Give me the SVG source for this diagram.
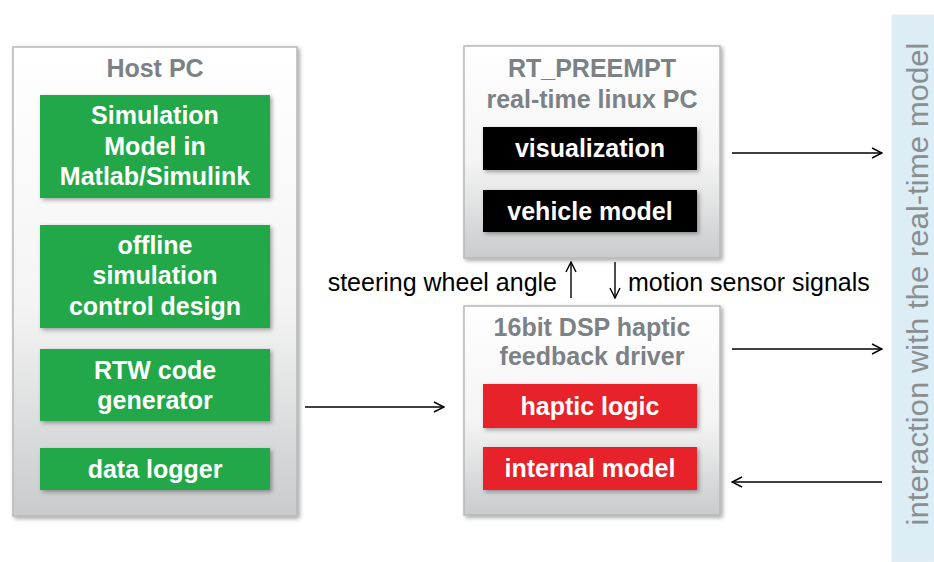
<svg xmlns="http://www.w3.org/2000/svg" width="934" height="562" viewBox="0 0 934 562">
<defs>
<linearGradient id="gb" x1="0" y1="0" x2="0" y2="1">
<stop offset="0" stop-color="#ffffff"/>
<stop offset="0.55" stop-color="#f4f4f4"/>
<stop offset="1" stop-color="#c9cbcc"/>
</linearGradient>
<filter id="sh" x="-10%" y="-10%" width="125%" height="125%">
<feDropShadow dx="2" dy="2" stdDeviation="2" flood-color="#000" flood-opacity="0.35"/>
</filter>
<marker id="ah" viewBox="0 0 12 12" refX="11" refY="6" markerWidth="12" markerHeight="12" markerUnits="userSpaceOnUse" orient="auto">
<path d="M1,1 L11,6 L1,11" fill="none" stroke="#000" stroke-width="1.4"/>
</marker>
</defs>
<style>
.outer{fill:url(#gb);stroke:#b5b8ba;stroke-width:1.5;filter:url(#sh)}
.green{fill:#21a84a;filter:url(#sh)}
.red{fill:#e8232b;filter:url(#sh)}
.black{fill:#000;filter:url(#sh)}
.t{font-family:"Liberation Sans",Arial,sans-serif;font-weight:bold;font-size:25px;text-anchor:middle;fill:#fff}
.title{font-family:"Liberation Sans",Arial,sans-serif;font-weight:bold;font-size:25px;text-anchor:middle;fill:#7b8184}
.lbl{font-family:"Liberation Sans",Arial,sans-serif;font-size:25px;fill:#000}
.c{stroke:#000;stroke-width:1.4;fill:none;marker-end:url(#ah)}
</style>
<rect x="0" y="0" width="934" height="562" fill="#fff"/>
<g id="strip">
<rect x="892" y="15" width="42" height="547" fill="#dcedf6" stroke="#e6eef2"/>
<text transform="translate(928,284) rotate(-90)" font-family="Liberation Sans,Arial,sans-serif" font-size="29" fill="#8a8f92" text-anchor="middle" textLength="483" lengthAdjust="spacingAndGlyphs">interaction with the real-time model</text>
</g>
<g id="hostpc">
<rect class="outer" x="13" y="47" width="284" height="469"/>
<text class="title" x="155" y="77">Host PC</text>
</g>
<g id="simmodel">
<rect class="green" x="40" y="95" width="230" height="103"/>
<text class="t" x="155" y="124">Simulation</text>
<text class="t" x="155" y="155">Model in</text>
<text class="t" x="155" y="185">Matlab/Simulink</text>
</g>
<g id="offline">
<rect class="green" x="40" y="225" width="230" height="103"/>
<text class="t" x="155" y="254">offline</text>
<text class="t" x="155" y="284">simulation</text>
<text class="t" x="155" y="315">control design</text>
</g>
<g id="rtw">
<rect class="green" x="40" y="349" width="230" height="72"/>
<text class="t" x="155" y="379">RTW code</text>
<text class="t" x="155" y="409">generator</text>
</g>
<g id="logger">
<rect class="green" x="40" y="448" width="230" height="42"/>
<text class="t" x="155" y="478">data logger</text>
</g>
<g id="rtpc">
<rect class="outer" x="464" y="46" width="256" height="212"/>
<text class="title" x="592" y="77">RT_PREEMPT</text>
<text class="title" x="592" y="108">real-time linux PC</text>
</g>
<g id="visualization">
<rect class="black" x="483" y="127" width="214" height="43"/>
<text class="t" x="590" y="157">visualization</text>
</g>
<g id="vehicle">
<rect class="black" x="483" y="190" width="214" height="42"/>
<text class="t" x="590" y="220">vehicle model</text>
</g>
<g id="dsp">
<rect class="outer" x="464" y="306" width="256" height="209"/>
<text class="title" x="592" y="336">16bit DSP haptic</text>
<text class="title" x="592" y="365">feedback driver</text>
</g>
<g id="haptic">
<rect class="red" x="483" y="384" width="214" height="44"/>
<text class="t" x="590" y="415">haptic logic</text>
</g>
<g id="internal">
<rect class="red" x="483" y="447" width="214" height="43"/>
<text class="t" x="590" y="477">internal model</text>
</g>
<g id="connectors">
<line class="c" x1="305" y1="407" x2="444" y2="407"/>
<line class="c" x1="732" y1="153" x2="882" y2="153"/>
<line class="c" x1="732" y1="349" x2="882" y2="349"/>
<line class="c" x1="882" y1="482" x2="732" y2="482"/>
<line class="c" x1="571" y1="298" x2="571" y2="262"/>
<line class="c" x1="615" y1="262" x2="615" y2="298"/>
<text class="lbl" x="557" y="291" text-anchor="end">steering wheel angle</text>
<text class="lbl" x="628" y="291">motion sensor signals</text>
</g>
</svg>
